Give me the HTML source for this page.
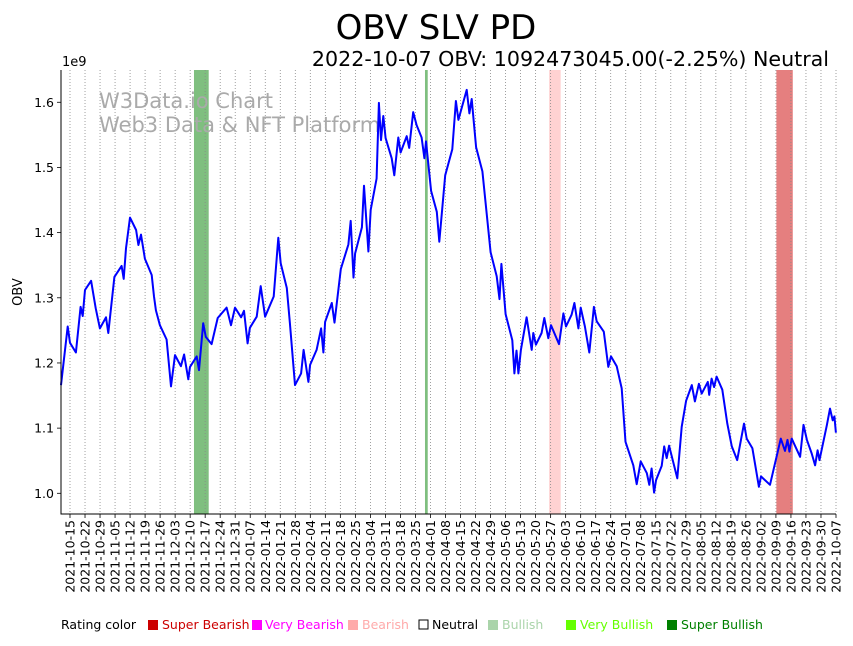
<!DOCTYPE html>
<html><head><meta charset="utf-8"><style>
body{margin:0;background:#fff;width:853px;height:641px;overflow:hidden;font-family:"Liberation Sans","DejaVu Sans",sans-serif}
svg text{font-family:"DejaVu Sans","Liberation Sans",sans-serif}
</style></head><body>
<svg id="chart" width="853" height="641" xmlns="http://www.w3.org/2000/svg">
<text x="436" y="39" font-size="34" text-anchor="middle">OBV SLV PD</text>
<text x="829" y="66" font-size="20.6" text-anchor="end">2022-10-07 OBV: 1092473045.00(-2.25%) Neutral</text>
<text x="62" y="66" font-size="13">1e9</text>
<text x="22" y="292" font-size="13" text-anchor="middle" transform="rotate(-90 22 292)">OBV</text>
<g id="bands"></g><g id="grid"></g>
<text x="99" y="108" font-size="21" fill="#aaa">W3Data.io Chart</text>
<text x="99" y="132" font-size="21" fill="#aaa">Web3 Data &amp; NFT Platform</text>
<g id="series"></g><g id="axes"></g>
<g font-size="12.5">
<text x="61" y="629">Rating color</text>
<rect x="148" y="620" width="10" height="10" fill="#cc0000"/><text x="162" y="629" fill="#cc0000">Super Bearish</text>
<rect x="252" y="620" width="10" height="10" fill="#ff00ff"/><text x="265" y="629" fill="#ff00ff">Very Bearish</text>
<rect x="348" y="620" width="10" height="10" fill="#ffaaaa"/><text x="362" y="629" fill="#ffaaaa">Bearish</text>
<rect x="419" y="620" width="9" height="9" fill="none" stroke="#000"/><text x="432" y="629">Neutral</text>
<rect x="488" y="620" width="10" height="10" fill="#aad4aa"/><text x="502" y="629" fill="#aad4aa">Bullish</text>
<rect x="566" y="620" width="10" height="10" fill="#66ff00"/><text x="580" y="629" fill="#66ff00">Very Bullish</text>
<rect x="667" y="620" width="10" height="10" fill="#008000"/><text x="681" y="629" fill="#008000">Super Bullish</text>
</g>
</svg>
<script>
const days=[0,3.2,4.3,7.1,9.3,10.3,11.4,14.3,16.5,18.5,21.4,22.5,25.4,28.8,29.8,30.9,32.8,35.7,36.8,38,39.9,43.1,44.2,45.1,47,50.2,52.3,54.2,57,58.5,60.5,61.3,64.5,65.6,67.6,68.8,71.6,74.5,78.7,80.8,82.7,85.6,87,88.7,89.8,93,94.9,97,101.1,103.3,104.4,107.3,108.8,111.2,114.1,115.3,117.6,118.4,121.5,123.6,124.7,125.5,128.7,130,133,136.6,137.7,139,139.8,143,144,146.1,147.2,150,151.1,152.1,153.2,154.3,157.2,158.4,160.3,161.4,164.3,165.5,167.4,169,171.4,172.7,173.5,175.9,178.6,179.8,182.6,186,187.7,188.9,192.8,194.1,195.2,197.3,200.3,204.2,207.1,208.4,209.3,211.3,214.5,215.5,216.5,217.4,218.6,221.3,223.7,224.5,225.7,228.4,229.7,231.6,232.9,236.7,238.8,240,242.7,244,245.9,247,249,251.1,253.3,254.6,258,260.1,261.4,264.1,266.5,268.3,272,273.6,275.5,278.4,279.6,280.7,281.9,282.8,285.5,286.7,287.9,289,292.9,295,297.1,299.8,301.3,303.2,304.5,307.4,308.1,309.2,310.4,311.6,314.3,316.7,318.8,321.4,324.6,325.9,328.6,331.7,332.7,337,342.1,344.1,345.3,346.2,347.3,351.3,352.9,354.5,356.8,358.4,359.6,360.5,364,365.5,366.8,367.6,368.3];
const obv=[1.166,1.256,1.231,1.216,1.286,1.272,1.312,1.326,1.284,1.253,1.27,1.246,1.332,1.349,1.329,1.376,1.423,1.404,1.381,1.397,1.36,1.335,1.302,1.281,1.258,1.236,1.164,1.212,1.195,1.213,1.175,1.194,1.21,1.189,1.261,1.24,1.229,1.269,1.285,1.258,1.285,1.27,1.28,1.23,1.254,1.271,1.318,1.271,1.302,1.392,1.353,1.315,1.261,1.166,1.184,1.22,1.171,1.197,1.22,1.253,1.216,1.263,1.292,1.262,1.344,1.382,1.418,1.331,1.368,1.408,1.472,1.371,1.435,1.483,1.599,1.542,1.579,1.545,1.514,1.488,1.546,1.523,1.548,1.53,1.585,1.565,1.546,1.514,1.54,1.464,1.432,1.386,1.488,1.528,1.602,1.573,1.619,1.583,1.605,1.531,1.494,1.37,1.333,1.298,1.352,1.275,1.235,1.184,1.219,1.184,1.22,1.27,1.22,1.246,1.228,1.246,1.269,1.238,1.258,1.229,1.276,1.256,1.274,1.292,1.253,1.285,1.256,1.216,1.286,1.264,1.248,1.194,1.21,1.195,1.161,1.079,1.043,1.014,1.049,1.031,1.013,1.038,1.001,1.02,1.042,1.072,1.054,1.073,1.023,1.102,1.142,1.166,1.141,1.168,1.153,1.171,1.151,1.176,1.163,1.179,1.159,1.107,1.072,1.051,1.107,1.084,1.069,1.01,1.026,1.013,1.084,1.065,1.082,1.064,1.084,1.056,1.105,1.082,1.061,1.043,1.066,1.051,1.105,1.13,1.112,1.118,1.093];
const tickLabels=["2021-10-15","2021-10-22","2021-10-29","2021-11-05","2021-11-12","2021-11-19","2021-11-26","2021-12-03","2021-12-10","2021-12-17","2021-12-24","2021-12-31","2022-01-07","2022-01-14","2022-01-21","2022-01-28","2022-02-04","2022-02-11","2022-02-18","2022-02-25","2022-03-04","2022-03-11","2022-03-18","2022-03-25","2022-04-01","2022-04-08","2022-04-15","2022-04-22","2022-04-29","2022-05-06","2022-05-13","2022-05-20","2022-05-27","2022-06-03","2022-06-10","2022-06-17","2022-06-24","2022-07-01","2022-07-08","2022-07-15","2022-07-22","2022-07-29","2022-08-05","2022-08-12","2022-08-19","2022-08-26","2022-09-02","2022-09-09","2022-09-16","2022-09-23","2022-09-30","2022-10-07"];
const yTicks=[1.0,1.1,1.2,1.3,1.4,1.5,1.6];
const bandStart=[63.2,173,232,340];
const bandEnd=[70.2,174.3,237.5,347.8];
const bandColor=["#7fbf7f","#7fbf7f","#ffd2d2","#e57f7f"];
const L=61,R=836,T=70,B=514;
const X=d=>L+d*2.104;
const tickX=i=>70+i*(R-70)/(tickLabels.length-1);
const Y=v=>493.3-(v-1.0)*651.7;
const NS="http://www.w3.org/2000/svg";
function mk(tag,attrs,parent){const e=document.createElementNS(NS,tag);for(const k in attrs)e.setAttribute(k,attrs[k]);document.getElementById(parent).appendChild(e);return e;}
bandStart.forEach((s,i)=>{
 const r=mk('rect',{x:X(s),y:T,width:X(bandEnd[i])-X(s),height:B-T,fill:bandColor[i]},'bands');
 
 
});
tickLabels.forEach((t,i)=>{
 const x=tickX(i);
 const g=mk('line',{x1:x,x2:x,y1:T,y2:B,stroke:'#888','stroke-width':0.8,'stroke-dasharray':'1,2'},'grid');
 
 
 mk('line',{x1:x,x2:x,y1:B,y2:B+4,stroke:'#000','stroke-width':0.8},'axes');
 const tx=mk('text',{x:0,y:0,'font-size':12.5,'text-anchor':'end',transform:`translate(${x+4.5},${B+6}) rotate(-90)`},'axes');
 tx.textContent=t;
 
 
});
yTicks.forEach(v=>{
 const y=Y(v);
 mk('line',{x1:L-4,x2:L,y1:y,y2:y,stroke:'#000','stroke-width':0.8},'axes');
 const tx=mk('text',{x:L-7,y:y+4.5,'font-size':12.5,'text-anchor':'end'},'axes');
 tx.textContent=v.toFixed(1);
 
 
});
const ax=mk('path',{d:`M${L},${T}V${B}H${R}`,fill:'none',stroke:'#000','stroke-width':1},'axes');


const pts=days.map((d,i)=>`${X(d).toFixed(1)},${Y(obv[i]).toFixed(1)}`).join(' ');
const line=mk('polyline',{points:pts,fill:'none',stroke:'#0000ff','stroke-width':2,'stroke-linejoin':'round'},'series');


</script>
</body></html>
